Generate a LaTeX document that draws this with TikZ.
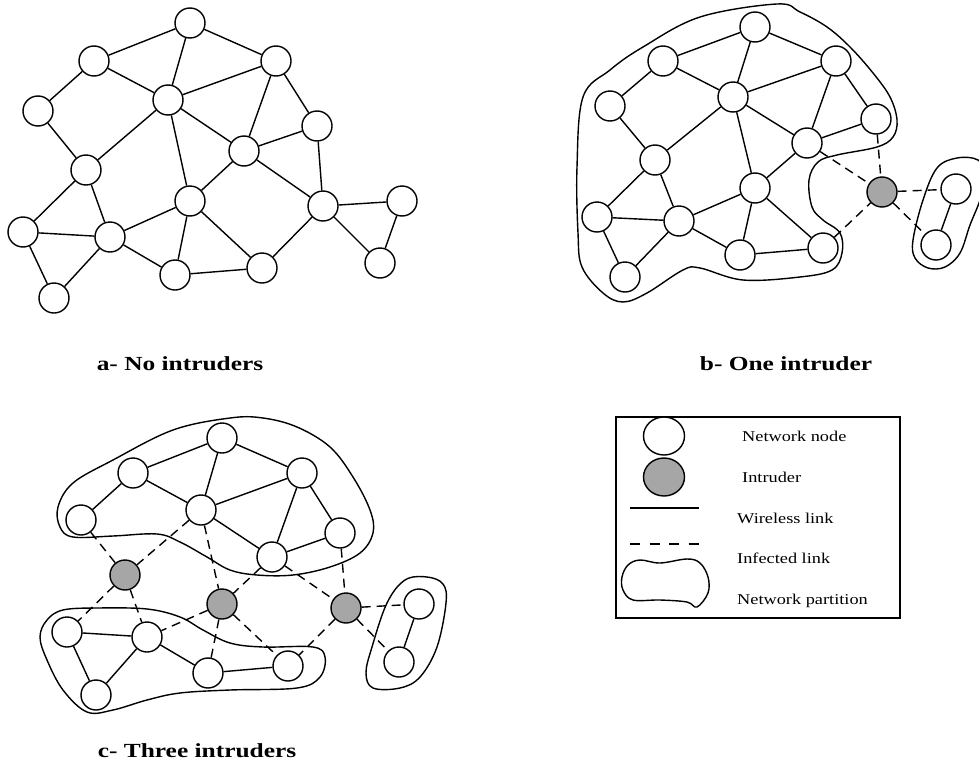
\documentclass[tikz,border=0pt]{standalone}
\usepackage{fontspec}
\usepackage{graphicx}
\setmainfont{Liberation Serif}
\usetikzlibrary{shapes.geometric}

\tikzset{
  netnode/.style={circle, draw, line width=1.4pt, fill=white, minimum size=30pt, inner sep=0pt},
  intruder/.style={netnode, fill=black!35},
  wlink/.style={line width=1.4pt},
  ilink/.style={line width=1.4pt, dash pattern=on 9pt off 6pt},
  partition/.style={line width=1.4pt},
  caption/.style={font=\bfseries\fontsize{20}{24}\selectfont, inner sep=0pt},
  legtext/.style={font=\fontsize{15}{18}\selectfont, anchor=west, inner sep=0pt},
}
\newcommand{\wide}[2]{\scalebox{#1}[1]{#2}}

\begin{document}
\begin{tikzpicture}[x=1pt, y=-1pt]
\useasboundingbox (0,0) rectangle (979,771);

% ---------------- (a) network without intruders ----------------
\node[netnode] (a1) at (190,23) {};
\node[netnode] (a2) at (94,61) {};
\node[netnode] (a3) at (276,61) {};
\node[netnode] (a4) at (38,111) {};
\node[netnode] (a5) at (168,100) {};
\node[netnode] (a6) at (317,126) {};
\node[netnode] (a7) at (244,151) {};
\node[netnode] (a8) at (86,170) {};
\node[netnode] (a9) at (190,201) {};
\node[netnode] (a10) at (323,206) {};
\node[netnode] (a11) at (402,201) {};
\node[netnode] (a12) at (23,232) {};
\node[netnode] (a13) at (110,237) {};
\node[netnode] (a14) at (175,275) {};
\node[netnode] (a15) at (262,268) {};
\node[netnode] (a16) at (380,263) {};
\node[netnode] (a17) at (54,298) {};

\foreach \u/\v in {a1/a2,a1/a5,a1/a3,a2/a4,a2/a5,a3/a5,a3/a7,a3/a6,a4/a8,
                   a5/a8,a5/a9,a5/a7,a6/a7,a6/a10,a7/a9,a7/a10,a8/a12,a8/a13,
                   a9/a13,a9/a14,a9/a15,a10/a15,a10/a11,a10/a16,a11/a16,
                   a12/a13,a12/a17,a13/a17,a13/a14,a14/a15}
  \draw[wlink] (\u) -- (\v);

\node[caption] (capa) at (180,364) {\wide{1.27}{a- No intruders}};

% ---------------- (b) network with one intruder ----------------
\draw[partition] plot[smooth cycle, tension=0.6] coordinates {
  (777,4) (700,17) (643,47) (610,70) (583,97) (577,167) (578,233) (582,267)
  (603,293) (623,302) (647,293) (683,270) (700,268) (743,280) (800,277)
  (832,270) (842,253) (840,233) (823,220) (812,207) (809,180) (818,162)
  (837,155) (877,147) (893,137) (897,120) (890,97) (873,73) (850,47)
  (827,27) (800,12)};
\draw[partition] plot[smooth cycle, tension=0.6] coordinates {
  (957,158) (978,160) (986,175) (980,200) (970,225) (960,253) (945,267)
  (928,268) (915,258) (913,240) (923,200) (937,168)};

\node[netnode] (b1) at (755,27) {};
\node[netnode] (b2) at (663,61) {};
\node[netnode] (b3) at (836,61) {};
\node[netnode] (b4) at (610,106) {};
\node[netnode] (b5) at (733,97) {};
\node[netnode] (b6) at (876,119) {};
\node[netnode] (b7) at (807,143) {};
\node[netnode] (b8) at (655,160) {};
\node[netnode] (b9) at (755,188) {};
\node[intruder] (b10) at (882,192) {};
\node[netnode] (b11) at (956,189) {};
\node[netnode] (b12) at (597,217) {};
\node[netnode] (b13) at (679,221) {};
\node[netnode] (b14) at (740,255) {};
\node[netnode] (b15) at (823,248) {};
\node[netnode] (b16) at (936,245) {};
\node[netnode] (b17) at (625,277) {};

\foreach \u/\v in {b1/b2,b1/b5,b1/b3,b2/b4,b2/b5,b3/b5,b3/b7,b3/b6,b4/b8,
                   b5/b8,b5/b9,b5/b7,b6/b7,b7/b9,b8/b12,b8/b13,
                   b9/b13,b9/b14,b9/b15,b11/b16,
                   b12/b13,b12/b17,b13/b17,b13/b14,b14/b15}
  \draw[wlink] (\u) -- (\v);
\foreach \u/\v in {b6/b10,b7/b10,b15/b10,b10/b11,b10/b16}
  \draw[ilink] (\u) -- (\v);

\node[caption] (capb) at (786,364) {\wide{1.27}{b- One intruder}};

% ---------------- (c) network with three intruders ----------------
\draw[partition] plot[smooth cycle, tension=0.6] coordinates {
  (230,418) (173,430) (113,460) (73,483) (58,507) (60,527) (73,537)
  (113,536) (157,534) (180,542) (207,557) (230,570) (257,575) (293,575)
  (330,567) (360,553) (373,533) (370,510) (353,477) (330,447) (297,427)
  (263,418)};
\draw[partition] plot[smooth cycle, tension=0.6] coordinates {
  (63,610) (47,620) (40,637) (47,660) (63,690) (87,712) (113,710) (147,700)
  (180,693) (230,690) (297,688) (320,677) (325,657) (313,647) (263,647)
  (230,643) (203,630) (180,617) (147,609) (97,608)};
\draw[partition] plot[smooth cycle, tension=0.6] coordinates {
  (427,577) (443,584) (446,603) (437,647) (420,677) (400,688) (373,688)
  (366,673) (372,647) (387,603) (405,580)};

\node[netnode] (c1) at (222,438) {};
\node[netnode] (c2) at (133,473) {};
\node[netnode] (c3) at (302,473) {};
\node[netnode] (c4) at (81,520) {};
\node[netnode] (c5) at (201,510) {};
\node[netnode] (c6) at (340,533) {};
\node[netnode] (c7) at (272,557) {};
\node[intruder] (c8) at (125,575) {};
\node[intruder] (c9) at (222,604) {};
\node[intruder] (c10) at (346,608) {};
\node[netnode] (c11) at (419,604) {};
\node[netnode] (c12) at (67,632) {};
\node[netnode] (c13) at (147,637) {};
\node[netnode] (c14) at (208,673) {};
\node[netnode] (c15) at (288,666) {};
\node[netnode] (c16) at (399,662) {};
\node[netnode] (c17) at (96,695) {};

\foreach \u/\v in {c1/c2,c1/c5,c1/c3,c2/c4,c2/c5,c3/c5,c3/c7,c3/c6,c5/c7,c6/c7,
                   c12/c13,c12/c17,c13/c17,c13/c14,c14/c15,c11/c16}
  \draw[wlink] (\u) -- (\v);
\foreach \u/\v in {c4/c8,c5/c8,c8/c12,c8/c13,c5/c9,c7/c9,c9/c13,c9/c14,c9/c15,
                   c7/c10,c6/c10,c10/c15,c10/c11,c10/c16}
  \draw[ilink] (\u) -- (\v);

\node[caption] (capc) at (197,751) {\wide{1.27}{c- Three intruders}};

% ---------------- legend ----------------
\node[draw, line width=1.4pt, minimum width=284pt, minimum height=201pt, inner sep=0pt]
  (legbox) at (758,517.5) {};
\node[ellipse, draw, line width=1.4pt, fill=white, minimum width=41pt, minimum height=38pt, inner sep=0pt]
  (legnode) at (664,436) {};
\node[ellipse, draw, line width=1.4pt, fill=black!35, minimum width=41pt, minimum height=38pt, inner sep=0pt]
  (legintr) at (664,477) {};
\coordinate (lw1) at (630,508);
\coordinate (lw2) at (699,508);
\coordinate (li1) at (630,544);
\coordinate (li2) at (699,544);
\draw[wlink] (lw1) -- (lw2);
\draw[line width=1.4pt, dash pattern=on 10pt off 9.5pt] (li1) -- (li2);
\draw[partition] plot[smooth cycle, tension=0.6] coordinates {
  (640,560) (660,563) (687,559) (700,563) (708,577) (708,593) (697,607)
  (687,602) (660,600) (633,600) (623,590) (622,577) (628,565)};

\node[legtext] (t1) at (742,436) {\wide{1.22}{Network node}};
\node[legtext] (t2) at (742,477) {\wide{1.22}{Intruder}};
\node[legtext] (t3) at (737,518) {\wide{1.22}{Wireless link}};
\node[legtext] (t4) at (737,558) {\wide{1.22}{Infected link}};
\node[legtext] (t5) at (737,601) {\wide{1.22}{Network partition}};
\end{tikzpicture}
\end{document}
